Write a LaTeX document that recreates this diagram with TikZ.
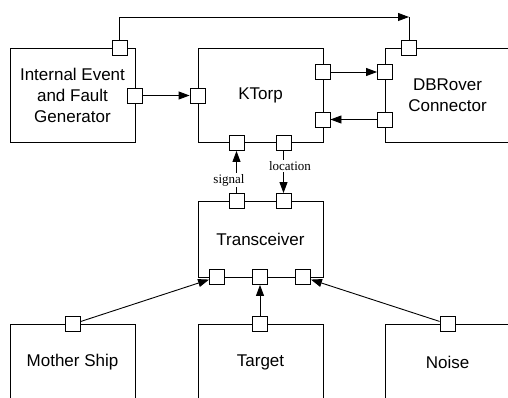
\documentclass[tikz,border=0pt]{standalone}
\usepackage{fontspec}
\setmainfont{Liberation Sans}
\newfontfamily\labelfont{Liberation Serif}
\usetikzlibrary{arrows.meta}
\begin{document}
\begin{tikzpicture}[x=1pt,y=-1pt,
  box/.style={draw, line width=0.9pt, minimum width=125pt, inner sep=0pt, font=\fontsize{17}{21}\selectfont, align=center},
  port/.style={draw, fill=white, line width=0.9pt, minimum size=15pt, inner sep=0pt},
  conn/.style={line width=0.9pt, -{Triangle[length=11pt,width=8pt]}},
  plainline/.style={line width=0.9pt},
  lbl/.style={font=\labelfont\fontsize{13}{15}\selectfont, fill=white, inner sep=1pt}]
\useasboundingbox (0,0) rectangle (508,398);
\clip (0,0) rectangle (508,398);
% boxes
\node[box, minimum height=94pt] (ie) at (72.5,95) {Internal Event\\and Fault\\Generator};
\node[box, minimum height=94pt] (kt) at (260.5,95) {KTorp};
\node[box, minimum height=94pt] (db) at (447.5,95) {DBRover\\Connector};
\node[box, minimum height=76pt] (tr) at (260.5,239) {Transceiver};
\node[box, minimum height=76pt] (ms) at (72.5,362) {Mother Ship};
\node[box, minimum height=76pt] (tg) at (260.5,362) {Target};
\node[box, minimum height=76pt] (ns) at (447.5,362) {Noise};
% ports
\node[port] (pietop) at (119.5,48) {};
\node[port] (pier) at (135,95.5) {};
\node[port] (pktl) at (197.5,95.5) {};
\node[port] (pktra) at (322.5,72) {};
\node[port] (pktrb) at (322.5,119.5) {};
\node[port] (pktsig) at (236.5,143) {};
\node[port] (pktloc) at (283.5,143) {};
\node[port] (pdbtop) at (409,48) {};
\node[port] (pdbla) at (385,72) {};
\node[port] (pdblb) at (385,119.5) {};
\node[port] (ptrsig) at (236.5,201) {};
\node[port] (ptrloc) at (283.5,201) {};
\node[port] (ptrl) at (217,277) {};
\node[port] (ptrm) at (260,277) {};
\node[port] (ptrr) at (303,277) {};
\node[port] (pms) at (73,324) {};
\node[port] (ptg) at (260,324) {};
\node[port] (pns) at (447.5,324) {};
% connectors
\coordinate (corner) at (409,17);
\draw[conn] (pietop.north) |- (corner);
\draw[plainline] (corner) -- (pdbtop.north);
\draw[conn] (pier.east) -- (pktl.west);
\draw[conn] (pktra.east) -- (pdbla.west);
\draw[conn] (pdblb.west) -- (pktrb.east);
\draw[conn] (ptrsig.north) -- (pktsig.south);
\node[lbl] (lsig) at (229,180) {signal};
\draw[conn] (pktloc.south) -- (ptrloc.north);
\node[lbl] (lloc) at (290,166) {location};
\draw[conn] (pms) -- (ptrl);
\draw[conn] (ptg) -- (ptrm);
\draw[conn] (pns) -- (ptrr);
\end{tikzpicture}
\end{document}
